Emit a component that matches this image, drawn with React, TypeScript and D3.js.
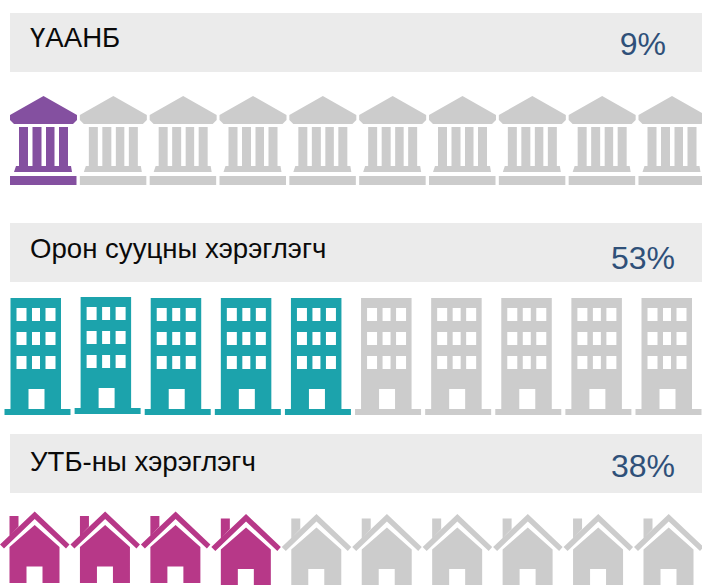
import React from "react";
import * as d3 from "d3";

const labels = ["ҮААНБ", "Орон сууцны хэрэглэгч", "УТБ-ны хэрэглэгч"];
const shares = [9, 53, 38];
const filledIcons = [1, 5, 4];
const iconCount = 10;
const fills = ["#8450a0", "#1ca3ac", "#b73888"];
const GREY = "#cccccc";
const PANEL = "#ebebeb";
const VALUE_COLOR = "#2f5079";

const poly = d3.line<[number, number]>().x((d) => d[0]).y((d) => d[1]);
const closed = (pts: [number, number][]) => poly(pts) + "Z";
const rect = (x: number, y: number, w: number, h: number) =>
  closed([[x, y], [x + w, y], [x + w, y + h], [x, y + h]]);

// Each icon is drawn in its own local frame; origin = left of icon cell, top of row.
function bankPath() {
  const parts = [
    closed([[33.5, 0], [67, 19], [67, 24], [63, 28], [4, 28], [0, 24], [0, 19]]),
    rect(9, 31, 9, 39), rect(22.5, 31, 9, 39), rect(36, 31, 8.5, 39), rect(49, 31, 9, 39),
    closed([[6, 70], [61, 70], [62, 76], [4, 76]]),
    rect(0, 80, 66.5, 9),
  ];
  return parts.join("");
}
function buildingPath() {
  const win = (x: number, y: number, w: number) => rect(x, y, w, 13);
  const holes: string[] = [];
  [10, 34, 58].forEach((y) => {
    holes.push(win(6, y, 10), win(21.5, y, 8), win(35, y, 10));
  });
  holes.push(rect(18, 91, 16, 20));
  return [
    rect(0, 0, 50.5, 111),
    rect(-6, 111, 66, 6),
    ...holes,
  ].join("");
}
function housePath() {
  const parts = [
    closed([[34.7, 0], [69.5, 33], [66, 37], [34.7, 7.5], [4, 37], [0, 33]]),
    closed([[9.5, 4.5], [18.5, 4.5], [18.5, 15], [9.5, 24]]),
    closed([
      [34.7, 13.5], [59.5, 35.5], [59.5, 71.5], [42.5, 71.5], [42.5, 55], [26.5, 55],
      [26.5, 71.5], [9.5, 71.5], [9.5, 35.5],
    ]),
  ];
  return parts.join("");
}

const bandY = [13, 223, 434];
const labelBaseline = [47, 258, 471];
const valueBaseline = [55, 269, 477];
const valueRight = [666, 675, 675];

const bankX = d3.scaleLinear().domain([0, iconCount - 1]).range([10, 638.5]);
const buildingX = d3.scaleLinear().domain([0, iconCount - 1]).range([10.5, 641.5]);
const houseX = d3.scaleLinear().domain([0, iconCount - 1]).range([0, 634]);

const rows = [
  { d: bankPath(), x: bankX, y: () => 96 },
  { d: buildingPath(), x: buildingX, y: (i: number) => (i === 1 ? 297 : 298) },
  { d: housePath(), x: houseX, y: (i: number) => (i < 3 ? 511.5 : 514) },
];

export default function App() {
  return (
    <svg
      width={702}
      height={585}
      viewBox="0 0 702 585"
      style={{ position: "absolute", left: 0, top: 0, display: "block", background: "#fff" }}
      fontFamily="'Liberation Sans', Arial, sans-serif"
    >
      {labels.map((label, r) => (
        <g key={label}>
          <rect x={10} y={bandY[r]} width={692} height={59} fill={PANEL} />
          <text x={30} y={labelBaseline[r]} fontSize={27.6} fill="#0a0a0a">
            {label}
          </text>
          <text x={valueRight[r]} y={valueBaseline[r]} fontSize={32} fill={VALUE_COLOR} textAnchor="end">
            {shares[r]}%
          </text>
          {d3.range(iconCount).map((i) => (
            <path
              key={i}
              d={rows[r].d}
              transform={`translate(${rows[r].x(i)},${rows[r].y(i)})`}
              fill={i < filledIcons[r] ? fills[r] : GREY}
              fillRule="evenodd"
            />
          ))}
        </g>
      ))}
    </svg>
  );
}
